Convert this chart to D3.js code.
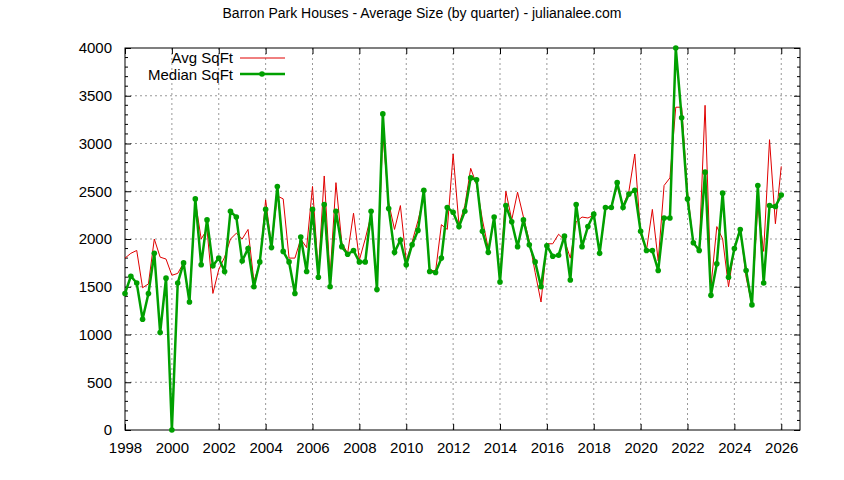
<!DOCTYPE html>
<html><head><meta charset="utf-8">
<script src="https://cdn.jsdelivr.net/npm/d3@7"></script>
<style>body{margin:0;background:#fff}</style>
</head><body><div id="chart"></div>
<script>
// quarterly values starting 1998 Q1
const startYear = 1998;
const medianSqft = [
  1430,1610,1540,1160, 1430,1850,1020,1590, 0,1540,1750,1340, 2420,1730,2200,1720,
  1800,1660,2290,2230, 1770,1900,1500,1760, 2310,1910,2550,1870, 1760,1430,2020,1660,
  2310,1600,2360,1500, 2290,1920,1840,1880, 1760,1760,2290,1470, 3310,2320,1860,1990,
  1730,1940,2090,2510, 1660,1650,1800,2330, 2280,2130,2290,2640, 2620,2080,1860,2230,
  1550,2350,2180,1920, 2200,1940,1760,1500, 1930,1820,1830,2030, 1570,2360,1920,2130,
  2260,1850,2330,2330, 2590,2330,2470,2510, 2080,1880,1880,1670, 2220,2220,4000,3270,
  2420,1960,1880,2700, 1410,1740,2480,1600, 1900,2100,1670,1310, 2560,1540,2350,2340,
  2460
];
const avgSqft = [
  1800,1850,1880,1490, 1530,2000,1810,1790, 1620,1640,1750,1340, 2400,2000,2100,1430,
  1680,1810,2000,2060, 2000,2100,1560,1740, 2410,1930,2450,2420, 1800,1800,2000,1910,
  2550,1650,2660,1610, 2590,1960,1850,2270, 1780,2000,2250,1500, 3100,2380,2100,2350,
  1770,1970,2190,2450, 1680,1660,2150,2100, 2890,2150,2350,2740, 2570,2200,1900,2200,
  1590,2500,2200,2490, 2230,1980,1650,1340, 1950,1950,2050,1990, 1800,2180,2230,2220,
  2250,1860,2300,2350, 2550,2350,2500,2890, 2050,1880,2310,1770, 2560,2640,3380,3380,
  2500,1950,1900,3400, 1500,2130,2000,1500, 1900,2120,1600,1310, 2350,1870,3040,2160,
  2760
];
const xTicks = d3.range(1998, 2027, 2);
const yTicks = d3.range(0, 4001, 500);

const width = 844, height = 480;
const margin = { top: 48, right: 44, bottom: 50, left: 125 };
const svg = d3.select("#chart").append("svg").attr("width", width).attr("height", height)
  .style("font-family", "Liberation Sans, Arial, sans-serif");

const x = d3.scaleLinear().domain([1998, 2026.8]).range([margin.left, width - margin.right]);
const y = d3.scaleLinear().domain([0, 4000]).range([height - margin.bottom, margin.top]);

const toPts = arr => arr.map((v, i) => ({ t: startYear + i / 4, v }));
const med = toPts(medianSqft), avg = toPts(avgSqft);

// grid
svg.append("g").selectAll("line").data(xTicks.slice(1)).join("line")
  .attr("x1", d => x(d)).attr("x2", d => x(d)).attr("y1", y(0)).attr("y2", y(4000))
  .attr("stroke", "#999").attr("stroke-dasharray", "2,3");
svg.append("g").selectAll("line").data(yTicks.slice(1, -1)).join("line")
  .attr("x1", x.range()[0]).attr("x2", x.range()[1]).attr("y1", d => y(d)).attr("y2", d => y(d))
  .attr("stroke", "#999").attr("stroke-dasharray", "2,3");

// axes
const axStyle = g => { g.select(".domain").remove(); g.selectAll("text").attr("font-size", 15).attr("fill", "#000"); };
svg.append("g").attr("transform", `translate(0,${y(0)})`)
  .call(d3.axisBottom(x).tickValues(xTicks).tickFormat(d3.format("d")).tickSizeInner(-6).tickPadding(12)).call(axStyle);
svg.append("g").attr("transform", `translate(0,${y(4000)})`)
  .call(d3.axisTop(x).tickValues(xTicks).tickFormat("").tickSizeInner(-6)).call(axStyle);
svg.append("g").attr("transform", `translate(${x.range()[0]},0)`)
  .call(d3.axisLeft(y).tickValues(yTicks).tickFormat(d3.format("d")).tickSizeInner(-6).tickPadding(13)).call(axStyle);
svg.append("g").attr("transform", `translate(${x.range()[1]},0)`)
  .call(d3.axisRight(y).tickValues(yTicks).tickFormat("").tickSizeInner(-6)).call(axStyle);
// minor ticks
const minorY = d3.range(0, 4001, 100).filter(d => d % 500);
[x.range()[0], x.range()[1]].forEach((px, k) => {
  svg.append("g").selectAll("line").data(minorY).join("line")
    .attr("x1", px).attr("x2", px + (k ? -3 : 3)).attr("y1", d => y(d)).attr("y2", d => y(d)).attr("stroke", "#000");
});
svg.append("rect").attr("x", x.range()[0]).attr("y", y(4000))
  .attr("width", x.range()[1] - x.range()[0]).attr("height", y(0) - y(4000))
  .attr("fill", "none").attr("stroke", "#000");

const line = d3.line().x(d => x(d.t)).y(d => y(d.v));
svg.append("path").datum(avg).attr("d", line).attr("fill", "none").attr("stroke", "#e00000").attr("stroke-width", 1);
svg.append("path").datum(med).attr("d", line).attr("fill", "none").attr("stroke", "#00a000").attr("stroke-width", 2.5);
svg.append("g").selectAll("circle").data(med).join("circle")
  .attr("cx", d => x(d.t)).attr("cy", d => y(d.v)).attr("r", 2.8).attr("fill", "#00a000");

// title
svg.append("text").attr("x", 422).attr("y", 18).attr("text-anchor", "middle").attr("font-size", 14)
  .text("Barron Park Houses - Average Size (by quarter) - julianalee.com");

// legend
const leg = svg.append("g").attr("font-size", 15);
leg.append("text").attr("x", 233).attr("y", 63).attr("text-anchor", "end").text("Avg SqFt");
leg.append("line").attr("x1", 240).attr("x2", 285).attr("y1", 58).attr("y2", 58).attr("stroke", "#e00000");
leg.append("text").attr("x", 233).attr("y", 80).attr("text-anchor", "end").text("Median SqFt");
leg.append("line").attr("x1", 240).attr("x2", 285).attr("y1", 74).attr("y2", 74).attr("stroke", "#00a000").attr("stroke-width", 2.5);
leg.append("circle").attr("cx", 262).attr("cy", 74).attr("r", 2.8).attr("fill", "#00a000");
</script></body></html>
